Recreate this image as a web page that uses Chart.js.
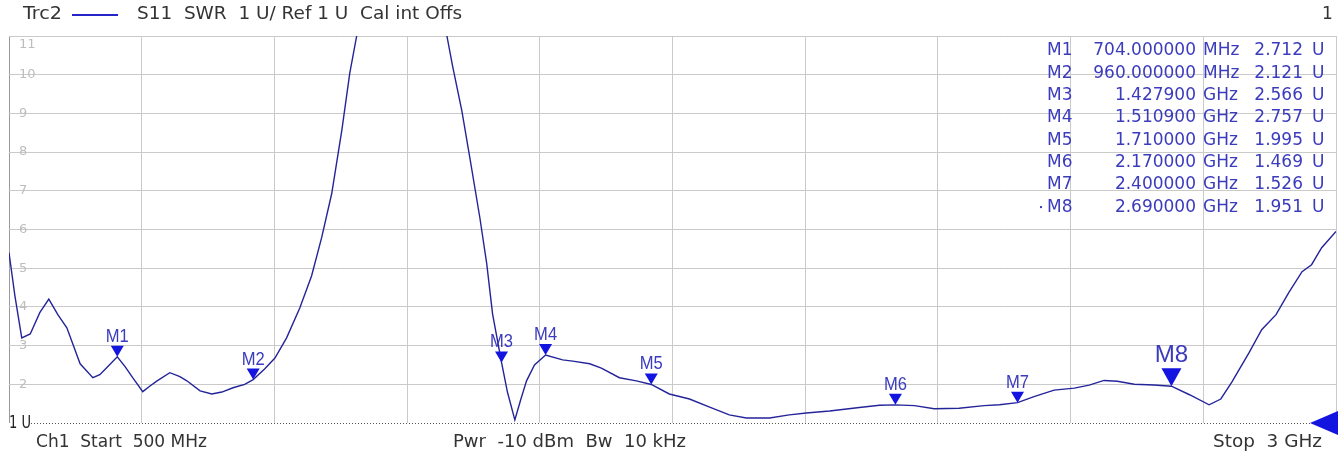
<!DOCTYPE html>
<html>
<head>
<meta charset="utf-8">
<script src="https://cdn.jsdelivr.net/npm/chart.js@4"></script>
<style>
    html, body { margin: 0; padding: 0; background: #fff; }
</style>
</head>
<body>
<canvas id="swrChart" width="1339" height="459"></canvas>
<script>
// S11 trace, frequency in MHz, SWR in U
const freqMHz = [
    500, 511, 524, 540, 558, 575, 592, 609, 634, 658, 671, 684, 704, 719, 733, 752, 765, 779,
    803, 822, 835, 860, 882, 901, 922, 944, 960, 982, 1001, 1023, 1048, 1070, 1089, 1108, 1127,
    1142, 1155, 1190, 1240, 1290, 1325, 1336, 1353, 1368, 1387, 1400, 1411, 1427.9, 1439, 1453,
    1464, 1475, 1490, 1510.9, 1543, 1562, 1594, 1616, 1650, 1682, 1710, 1744, 1782, 1820, 1857,
    1889, 1933, 1970, 2002, 2046, 2102, 2140, 2170, 2206, 2243, 2290, 2337, 2366, 2400, 2431,
    2469, 2507, 2535, 2563, 2588, 2620, 2657, 2690, 2724, 2761, 2783, 2804, 2836, 2860, 2887,
    2911, 2936, 2954, 2973, 3000
];
const swr = [
    5.4, 4.3, 3.2, 3.3, 3.85, 4.2, 3.8, 3.46, 2.53, 2.17, 2.25, 2.43, 2.712, 2.45, 2.17, 1.81, 1.95, 2.09,
    2.3, 2.2, 2.09, 1.83, 1.75, 1.8, 1.91, 2.0, 2.121, 2.4, 2.68, 3.2, 3.98, 4.8, 5.79, 6.93, 8.56,
    10.04, 11.0, 14.0, 16.0, 14.0, 11.0, 10.2, 9.08, 7.87, 6.31, 5.12, 3.82, 2.566, 1.8, 1.08,
    1.6, 2.09, 2.5, 2.757, 2.63, 2.6, 2.53, 2.42, 2.17, 2.09, 1.995, 1.75, 1.62, 1.41, 1.21,
    1.13, 1.13, 1.21, 1.26, 1.31, 1.4, 1.46, 1.469, 1.45, 1.37, 1.38, 1.45, 1.47, 1.526, 1.68,
    1.85, 1.9, 1.98, 2.1, 2.08, 2.0, 1.98, 1.951, 1.73, 1.47, 1.62, 2.06, 2.81, 3.41, 3.8,
    4.37, 4.91, 5.09, 5.53, 5.95
];

const markerNames = ['M1', 'M2', 'M3', 'M4', 'M5', 'M6', 'M7', 'M8'];
const markerFreqMHz = [704, 960, 1427.9, 1510.9, 1710, 2170, 2400, 2690];
const markerSwr = [2.712, 2.121, 2.566, 2.757, 1.995, 1.469, 1.526, 1.951];
const markerFreqText = ['704.000000', '960.000000', '1.427900', '1.510900', '1.710000', '2.170000', '2.400000', '2.690000'];
const markerUnitText = ['MHz', 'MHz', 'GHz', 'GHz', 'GHz', 'GHz', 'GHz', 'GHz'];
const markerSwrText = ['2.712', '2.121', '2.566', '2.757', '1.995', '1.469', '1.526', '1.951'];
const activeMarker = 7;

const yTickLabels = ['', '2', '3', '4', '5', '6', '7', '8', '9', '10', '11'];

const headerTrace = 'Trc2';
const headerInfo = 'S11  SWR  1 U/ Ref 1 U  Cal int Offs';
const footerStart = 'Ch1  Start  500 MHz';
const footerMid = 'Pwr  -10 dBm  Bw  10 kHz';
const footerStop = 'Stop  3 GHz';

const TRACE_BLUE = '#24249a';
const MARK_BLUE = '#1414e0';
const TEXT_BLUE = '#3b3bbd';
const GRID = '#cacaca';

// draw a string squeezed/stretched to the width seen on the screenshot
function fitText(ctx, str, x, y, width, align) {
    const w = ctx.measureText(str).width;
    ctx.save();
    ctx.translate(x, y);
    ctx.scale(width / w, 1);
    ctx.textAlign = align;
    ctx.fillText(str, 0, 0);
    ctx.restore();
}

const analyzerPlugin = {
    id: 'analyzer',
    beforeDatasetsDraw(chart) {
        const { ctx, chartArea, scales: { y } } = chart;
        ctx.save();
        // grey level labels inside the grid
        ctx.font = '13px "DejaVu Sans"';
        ctx.fillStyle = '#bdbdbd';
        ctx.textAlign = 'left';
        ctx.textBaseline = 'middle';
        y.ticks.forEach((t, i) => {
            const label = yTickLabels[i];
            if (!label) return;
            let py = y.getPixelForValue(t.value);
            if (t.value === y.max) py += 9;
            ctx.fillText(label, chartArea.left + 10, py);
        });
        // reference line at 1 U
        const refY = y.getPixelForValue(1);
        ctx.strokeStyle = '#555';
        ctx.lineWidth = 1;
        ctx.setLineDash([1, 2]);
        ctx.beginPath();
        ctx.moveTo(chartArea.left + 22, refY + 0.5);
        ctx.lineTo(chartArea.right - 20, refY + 0.5);
        ctx.stroke();
        ctx.setLineDash([]);
        ctx.restore();
    },
    afterDatasetsDraw(chart) {
        const { ctx, chartArea, scales: { x, y } } = chart;
        ctx.save();
        markerNames.forEach((name, i) => {
            const px = x.getPixelForValue(markerFreqMHz[i]);
            const py = y.getPixelForValue(markerSwr[i]);
            const active = i === activeMarker;
            const w = active ? 20 : 13;
            const h = active ? 18 : 11;
            ctx.fillStyle = MARK_BLUE;
            ctx.beginPath();
            ctx.moveTo(px, py);
            ctx.lineTo(px - w / 2, py - h);
            ctx.lineTo(px + w / 2, py - h);
            ctx.closePath();
            ctx.fill();
            ctx.fillStyle = TEXT_BLUE;
            ctx.font = active ? '23px "Liberation Sans"' : '18px "Liberation Sans"';
            ctx.textAlign = 'center';
            ctx.textBaseline = 'alphabetic';
            ctx.save();
            ctx.translate(px, py - h - (active ? 6 : 4));
            ctx.scale(active ? 1.05 : 0.92, 1);
            ctx.fillText(name, 0, 0);
            ctx.restore();
        });

        // stop-side reference arrow
        const refY = y.getPixelForValue(1);
        ctx.fillStyle = MARK_BLUE;
        ctx.beginPath();
        ctx.moveTo(chartArea.right - 26, refY);
        ctx.lineTo(chartArea.right + 2, refY - 12);
        ctx.lineTo(chartArea.right + 2, refY + 12);
        ctx.closePath();
        ctx.fill();

        // marker table
        ctx.font = '17px "DejaVu Sans"';
        ctx.fillStyle = TEXT_BLUE;
        ctx.textBaseline = 'middle';
        markerNames.forEach((name, i) => {
            const ry = 51 + i * 22.3;
            ctx.textAlign = 'left';
            ctx.fillText(name, 1047, ry);
            ctx.fillText(markerUnitText[i], 1203, ry);
            ctx.fillText('U', 1312, ry);
            ctx.textAlign = 'right';
            ctx.fillText(markerFreqText[i], 1196, ry);
            ctx.fillText(markerSwrText[i], 1303, ry);
            if (i === activeMarker) ctx.fillRect(1040, ry - 1, 2, 2);
        });

        // header and footer text
        ctx.fillStyle = '#333';
        ctx.font = '17px "DejaVu Sans"';
        ctx.textBaseline = 'middle';
        fitText(ctx, headerTrace, 23, 15, 39, 'left');
        fitText(ctx, headerInfo, 137, 15, 325, 'left');
        ctx.textAlign = 'left';
        ctx.fillText('1', 1322, 15);
        ctx.strokeStyle = '#2626c8';
        ctx.lineWidth = 2;
        ctx.beginPath();
        ctx.moveTo(72, 15);
        ctx.lineTo(118, 15);
        ctx.stroke();

        ctx.fillStyle = '#222';
        fitText(ctx, '1 U', 9, 424, 22, 'left');
        ctx.fillStyle = '#333';
        fitText(ctx, footerStart, 36, 443, 171, 'left');
        fitText(ctx, footerMid, 453, 443, 233, 'left');
        fitText(ctx, footerStop, 1322, 443, 109, 'right');
        ctx.restore();
    }
};

const ctx = document.getElementById('swrChart').getContext('2d');
new Chart(ctx, {
    type: 'line',
    data: {
        datasets: [{
            data: freqMHz.map((f, i) => ({ x: f, y: swr[i] })),
            borderColor: TRACE_BLUE,
            borderWidth: 1.4,
            pointRadius: 0,
            tension: 0,
            clip: 0
        }]
    },
    options: {
        responsive: false,
        animation: false,
        devicePixelRatio: 1,
        layout: { padding: { left: 9, right: 3, top: 36, bottom: 36 } },
        plugins: {
            legend: { display: false },
            tooltip: { enabled: false }
        },
        scales: {
            x: {
                type: 'linear',
                min: 500,
                max: 3000,
                ticks: { display: false, stepSize: 250 },
                grid: {
                    drawTicks: false,
                    color: c => (c.tick && c.tick.value === 500) ? '#9a9a9a' : GRID
                },
                border: { display: false }
            },
            y: {
                min: 1,
                max: 11,
                ticks: { display: false, stepSize: 1 },
                grid: {
                    drawTicks: false,
                    color: c => (c.tick && c.tick.value === 1) ? 'rgba(0,0,0,0)' : GRID
                },
                border: { display: false }
            }
        }
    },
    plugins: [analyzerPlugin]
});
</script>
</body>
</html>
